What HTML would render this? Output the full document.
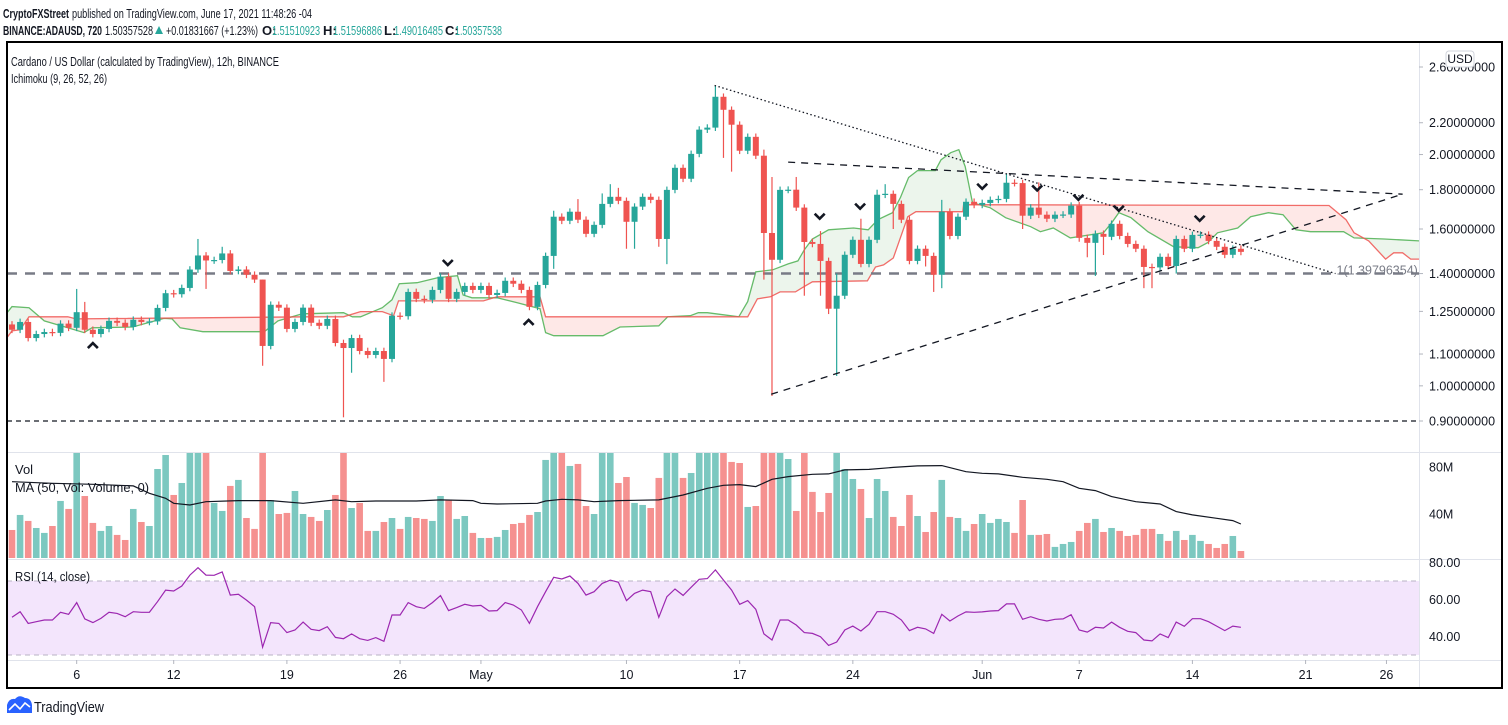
<!DOCTYPE html>
<html><head><meta charset="utf-8"><style>
html,body{margin:0;padding:0;background:#fff;}
svg{display:block;font-family:"Liberation Sans",sans-serif;}
</style></head>
<body>
<svg id="chart" width="1508" height="725" viewBox="0 0 1508 725" xmlns="http://www.w3.org/2000/svg">
<rect x="0" y="0" width="1508" height="725" fill="#fff"/>
<defs>
<clipPath id="mainClip"><rect x="7" y="43" width="1412" height="409"/></clipPath>
<clipPath id="volClip"><rect x="7" y="453" width="1412" height="105"/></clipPath>
</defs>
<g id="hdr" font-size="13" fill="#131722">
<text x="3" y="18" font-weight="bold" textLength="66" lengthAdjust="spacingAndGlyphs">CryptoFXStreet</text>
<text x="72" y="18" textLength="240" lengthAdjust="spacingAndGlyphs">published on TradingView.com, June 17, 2021 11:48:26 -04</text>
<text x="3" y="35" font-weight="bold" textLength="99" lengthAdjust="spacingAndGlyphs">BINANCE:ADAUSD, 720</text>
<text x="105" y="35" textLength="48" lengthAdjust="spacingAndGlyphs">1.50357528</text>
<path d="M155 34 L159 26 L163 34 Z" fill="#26a69a"/>
<text x="166" y="35" textLength="92" lengthAdjust="spacingAndGlyphs">+0.01831667 (+1.23%)</text>
<text x="262" y="35" font-weight="bold">O:</text>
<text x="272" y="35" fill="#26a69a" textLength="48" lengthAdjust="spacingAndGlyphs">1.51510923</text>
<text x="323" y="35" font-weight="bold">H:</text>
<text x="333" y="35" fill="#26a69a" textLength="49" lengthAdjust="spacingAndGlyphs">1.51596886</text>
<text x="384" y="35" font-weight="bold">L:</text>
<text x="394" y="35" fill="#26a69a" textLength="49" lengthAdjust="spacingAndGlyphs">1.49016485</text>
<text x="445" y="35" font-weight="bold">C:</text>
<text x="455" y="35" fill="#26a69a" textLength="47" lengthAdjust="spacingAndGlyphs">1.50357538</text>
</g>
<g id="plot"></g>
<rect x="7" y="42" width="1495" height="646" fill="none" stroke="#000" stroke-width="2"/>
<text x="11" y="66" font-size="13" fill="#131722" textLength="268" lengthAdjust="spacingAndGlyphs">Cardano / US Dollar (calculated by TradingView), 12h, BINANCE</text>
<text x="11" y="83" font-size="13" fill="#131722" textLength="96" lengthAdjust="spacingAndGlyphs">Ichimoku (9, 26, 52, 26)</text>
<text x="15" y="474" font-size="13" fill="#131722">Vol</text>
<text x="15" y="492" font-size="13" fill="#131722" textLength="134" lengthAdjust="spacingAndGlyphs">MA (50, Vol: Volume, 0)</text>
<text x="15" y="581" font-size="13" fill="#131722" textLength="75" lengthAdjust="spacingAndGlyphs">RSI (14, close)</text>
<g>
<rect x="1446" y="51" width="28" height="16" rx="3" fill="#fff" stroke="#d1d4dc"/>
<text x="1460" y="63" font-size="12" text-anchor="middle" fill="#131722">USD</text>
</g>
<g>
<path d="M7 713 L7 705 Q9 698 15 699 Q19 694 25 698 Q31 698 32 705 L32 713 Z" fill="#2962ff"/>
<path d="M9 710 L15 704 L20 709 L25 703 L30 707" fill="none" stroke="#fff" stroke-width="1.6"/>
<text x="34" y="712" font-size="15" fill="#131722" textLength="70" lengthAdjust="spacingAndGlyphs">TradingView</text>
</g>
</svg>
<script>
// ===== data =====
const firstOpen = 1.202;
const closes = [1.183,1.211,1.154,1.168,1.175,1.172,1.205,1.190,1.247,1.183,
1.168,1.186,1.215,1.208,1.193,1.219,1.211,1.213,1.263,1.320,
1.316,1.341,1.417,1.478,1.456,1.458,1.487,1.411,1.417,1.395,
1.375,1.127,1.275,1.264,1.186,1.211,1.264,1.208,1.197,1.222,
1.137,1.120,1.154,1.110,1.097,1.110,1.084,1.234,1.232,1.325,
1.298,1.294,1.333,1.387,1.298,1.325,1.349,1.333,1.349,1.313,
1.321,1.370,1.358,1.333,1.267,1.353,1.476,1.660,1.640,1.685,
1.645,1.577,1.620,1.725,1.762,1.741,1.635,1.711,1.762,1.746,
1.553,1.799,1.922,1.860,2.004,2.155,2.168,2.378,2.287,2.187,
2.023,2.109,1.993,1.581,1.459,1.799,1.800,1.706,1.539,1.530,
1.454,1.260,1.310,1.481,1.549,1.441,1.549,1.773,1.778,1.725,
1.645,1.454,1.508,1.476,1.395,1.685,1.567,1.660,1.736,1.720,
1.730,1.746,1.751,1.838,1.836,1.665,1.706,1.670,1.650,1.670,
1.671,1.716,1.558,1.535,1.577,1.563,1.625,1.567,1.530,1.508,
1.428,1.426,1.472,1.432,1.553,1.508,1.572,1.573,1.544,1.517,
1.481,1.508,1.494];
const highs = {8:1.337,9:1.286,23:1.553,26:1.517,31:1.375,67:1.69,70:1.75,73:1.78,74:1.83,75:1.81,87:2.46,93:2.03,94:1.87,97:1.87,100:1.59,102:1.40,105:1.65,107:1.80,108:1.83,115:1.746,123:1.89,127:1.84,132:1.736};
const lows = {24:1.337,31:1.062,41:0.91,42:1.04,46:1.012,67:1.42,76:1.508,77:1.508,80:1.517,81:1.44,88:1.98,89:1.90,93:1.375,94:0.97,98:1.31,100:1.31,101:1.24,102:1.03,109:1.60,113:1.43,114:1.325,115:1.34,125:1.60,132:1.54,133:1.47,134:1.39,135:1.48,140:1.34,141:1.34,144:1.40};
const volumes = [26.4,39.2,34.1,28.1,23.9,29.8,51.1,44.3,105,55.3,
32.4,25.6,29.8,22.2,17.9,44.3,33.2,29.8,78.3,90.2,
56.2,66.4,110,120,100,49.4,42.6,63.9,69,36.6,
27.3,150,51.9,40,40.9,59.6,40,37.5,34.1,43.4,
56.2,130,45.1,49.4,25.6,25.6,33.2,36.6,27.3,37.5,
36.6,35.8,34.1,55.3,51.9,35.8,38.3,23.9,19.6,19.6,
20.5,26.4,31.5,32.4,39.2,41.7,86,120,100,80.9,
82.6,46.8,40,110,100,66.4,71.5,49.4,47.7,45.1,
70.7,140,110,70.7,74.9,110,100,130,100,84.3,
83.4,46,46.8,160,140,110,86.8,42.6,100,58.8,
41.7,57.9,120,78.3,69.8,61.3,36.6,69.8,59.6,37.5,
29.8,56.2,38.3,24.7,41.7,69,37.5,36.6,25.6,31.5,
40,32.4,35.8,33.2,23.9,51.9,22.2,22.2,23,12,
14.5,16.2,25.6,32.4,35.8,24.7,28.1,25.6,21.3,22.2,
27.3,27.3,23,17.1,25.6,17.9,22.2,17.1,14.5,11.1,
14.5,21.3,8.5];
const volMA = [[0,67.5],[5,66.1],[10,65.3],[15,63.9],[17,57.6],[19,53.4],[20,49.1],[22,47.7],[24,50.5],[28,51.4],[32,51.4],[36,49.1],[40,52],[42,50.5],[45,51.1],[50,51.1],[53,52],[57,51.4],[58,49.1],[60,48.5],[65,49.1],[66,51.1],[68,52.5],[70,52],[72,50.5],[75,51.4],[80,52],[83,56.2],[86,61.9],[88,64.4],[90,65],[92,63.3],[94,69.5],[96,71.8],[99,73.8],[101,74.1],[103,77.5],[106,78],[109,79.7],[112,80.9],[115,81.2],[118,76],[120,74.6],[122,74.1],[125,71.2],[128,69.5],[130,67.5],[132,61.9],[134,59.9],[136,54.8],[139,50.5],[142,48.5],[144,42],[146,39.2],[149,36.3],[151,34.4],[152,31.5]];
const rsiValues = [50.4,53.4,47.1,48.0,48.9,48.9,53.1,52.0,58.3,49.5,
47.5,49.8,53.1,52.5,50.7,53.4,53.1,53.1,58.8,65.1,
64.6,67.3,73.2,77.2,73.2,73.1,74.9,62.4,62.8,59.7,
56.1,34.2,47.5,47.1,42.1,43.5,47.8,43.9,43.2,45.3,
39.5,38.8,41.4,38.8,37.9,39.4,37.4,51.6,51.6,58.3,
56.1,55.2,58.3,62.1,54.0,55.6,57.4,56.5,56.8,53.8,
54.0,58.3,57.0,54.3,47.1,56.1,64.2,72.0,71.1,72.7,
68.7,62.4,64.2,68.7,70.5,69.3,
59.4,63.3,65.1,64.2,50.4,61.5,65.7,62.2,66.6,70.9,
71.3,76.0,70.5,65.1,57.4,59.4,54.7,41.4,38.1,48.9,
48.9,46.2,42.1,41.7,39.9,35.2,37.0,43.5,45.6,43.0,
46.6,53.4,53.4,52.0,48.9,43.2,45.0,44.1,41.7,52.0,
48.4,51.1,53.3,53.1,53.3,53.8,54.0,57.6,57.6,49.3,
50.7,49.3,48.4,49.3,49.5,51.8,43.5,42.4,45.0,44.6,
47.8,45.0,42.8,42.1,38.1,37.6,41.4,39.4,47.8,45.5,
49.6,49.6,48.0,45.6,43.2,45.6,45.0];
const spanA = [[-0.6,1.245],[0,1.268],[2.1,1.264],[4,1.215],[6.9,1.19],[8.9,1.173],[9.9,1.19],[14.9,1.193],[18.8,1.224],[19.8,1.222],[20.8,1.19],[23.6,1.176],[31.2,1.176],[32.9,1.215],[35.9,1.241],[41,1.245],[42.1,1.23],[43.1,1.23],[45.8,1.264],[47,1.294],[47.9,1.358],[50.1,1.362],[52.7,1.383],[55.1,1.391],[55.8,1.313],[56.9,1.302],[60,1.302],[62.5,1.283],[65.3,1.26],[66,1.173],[67,1.162],[73.1,1.162],[75.2,1.193],[80,1.197],[81.1,1.23],[83.9,1.234],[84.9,1.245],[86,1.245],[89.9,1.23],[91,1.287],[92,1.407],[94.1,1.416],[96,1.441],[97.2,1.454],[98,1.503],[99,1.553],[101,1.596],[104.1,1.605],[105.9,1.596],[107.1,1.645],[108.9,1.68],[109.9,1.759],[110.9,1.867],[112,1.906],[114.2,1.906],[114.9,1.969],[116.1,2.011],[117.1,2.029],[117.9,1.929],[118.8,1.731],[121,1.705],[122.9,1.655],[126,1.611],[127.2,1.587],[128.8,1.605],[130.9,1.558],[135,1.582],[136.1,1.635],[136.9,1.68],[138.4,1.655],[140.5,1.587],[143.7,1.517],[146.7,1.513],[147.9,1.536],[149.1,1.582],[151.6,1.605],[153.2,1.66],[155.4,1.68],[157.2,1.67],[158.8,1.596],[160.6,1.587],[164.7,1.587],[166,1.558],[169.7,1.553],[174.1,1.544]];
const spanB = [[-0.6,1.156],[0,1.179],[1,1.183],[2.1,1.23],[6.9,1.23],[7.9,1.222],[36.9,1.23],[41,1.23],[43.1,1.249],[45.8,1.249],[47.2,1.234],[47.8,1.29],[58.3,1.29],[60,1.306],[65.3,1.306],[66,1.23],[91,1.23],[92.2,1.298],[93.8,1.306],[95,1.325],[96.9,1.325],[97.9,1.345],[99,1.366],[105.8,1.37],[106.8,1.428],[107.8,1.437],[109,1.467],[110.8,1.66],[111.8,1.685],[117.6,1.685],[117.7,1.721],[162.9,1.717],[165,1.645],[166,1.582],[167.8,1.544],[169.9,1.462],[170.9,1.49],[172,1.49],[173,1.462],[174.1,1.462]];
const priceTicks = [2.6,2.2,2.0,1.8,1.6,1.4,1.25,1.1,1.0,0.9];
const volTicks = [80,40];
const rsiTicks = [80,60,40];
const timeLabels = ["6","12","19","26","May","10","17","24","Jun","7","14","21","26"];
const timeDays = [4,10,17,24,29,38,45,52,60,66,73,80,85];
const markerDown = [[53.9,1.445],[99.9,1.66],[104.9,1.711],[120,1.816],[126.8,1.807],[131.9,1.757],[136.9,1.70],[146.9,1.65]];
const markerUp = [[10,1.13],[63.9,1.211]];
const dottedTrend = [[86.9,2.46],[163.7,1.40]];
const upperTrend = [[96,1.955],[172,1.776]];
const lowerTrend = [[93.9,0.975],[172,1.776]];
const hLevels = [1.4,0.9];
const fibLabel = "1(1.39796354)";

// ===== scales =====
const NS = "http://www.w3.org/2000/svg";
function xi(i){return 12 + 8.085*i;}
function xd(d){return 12 + 16.17*d;}
function yp(p){return 421 - 333.7*Math.log(p/0.9);}
function yv(v){return 561 - 1.175*v;}
function yr(r){return 581 + (70 - r)*1.85;}
function mk(tag, parent){const e=document.createElementNS(NS,tag);parent.appendChild(e);return e;}
function pts(arr,fy){return arr.map(a=>xi(a[0]).toFixed(1)+','+fy(a[1]).toFixed(1)).join(' ');}

const plot = document.getElementById('plot');

// grid separators & axis lines
let sep = mk('line', plot);
sep.setAttribute('x1',7);sep.setAttribute('x2',1502);sep.setAttribute('y1',452.5);sep.setAttribute('y2',452.5);sep.setAttribute('stroke','#e0e3eb');


let sep2 = mk('line', plot);
sep2.setAttribute('x1',7);sep2.setAttribute('x2',1502);sep2.setAttribute('y1',559.5);sep2.setAttribute('y2',559.5);sep2.setAttribute('stroke','#e0e3eb');


let tax = mk('line', plot);
tax.setAttribute('x1',7);tax.setAttribute('x2',1502);tax.setAttribute('y1',660.5);tax.setAttribute('y2',660.5);tax.setAttribute('stroke','#e0e3eb');


let pax = mk('line', plot);
pax.setAttribute('x1',1419.5);pax.setAttribute('x2',1419.5);pax.setAttribute('y1',42);pax.setAttribute('y2',688);pax.setAttribute('stroke','#e0e3eb');



// ===== main pane =====
const main = mk('g', plot);
main.setAttribute('clip-path','url(#mainClip)');



// cloud clip paths
const defs = document.querySelector('defs');
const x0 = xi(spanB[0][0]), x1 = xi(spanB[spanB.length-1][0]);
let cpB = mk('clipPath', defs); cpB.setAttribute('id','aboveB');
let cpBp = mk('polygon', cpB); cpBp.setAttribute('points', pts(spanB,yp)+' '+x1+',0 '+x0+',0');
let cpA = mk('clipPath', defs); cpA.setAttribute('id','aboveA');
let cpAp = mk('polygon', cpA); cpAp.setAttribute('points', pts(spanA,yp)+' '+xi(spanA[spanA.length-1][0])+',0 '+xi(spanA[0][0])+',0');
const between = pts(spanA,yp)+' '+pts(spanB.slice().reverse(),yp);
let gFill = mk('polygon', main);
gFill.setAttribute('points', between);gFill.setAttribute('fill','rgba(67,160,71,0.10)');gFill.setAttribute('clip-path','url(#aboveB)');


let rFill = mk('polygon', main);
rFill.setAttribute('points', between);rFill.setAttribute('fill','rgba(244,67,54,0.12)');rFill.setAttribute('clip-path','url(#aboveA)');


let aLine = mk('polyline', main);
aLine.setAttribute('points', pts(spanA,yp));aLine.setAttribute('fill','none');aLine.setAttribute('stroke','#66bb6a');aLine.setAttribute('stroke-width','1.3');


let bLine = mk('polyline', main);
bLine.setAttribute('points', pts(spanB,yp));bLine.setAttribute('fill','none');bLine.setAttribute('stroke','#ef5350');bLine.setAttribute('stroke-width','1.3');bLine.setAttribute('stroke-opacity','0.85');



// horizontal levels
hLevels.forEach((lv,k)=>{
  const l = mk('line', main);
  l.setAttribute('x1',7);l.setAttribute('x2',1419);l.setAttribute('y1',yp(lv));l.setAttribute('y2',yp(lv));
  if(k===0){l.setAttribute('stroke','#787b86');l.setAttribute('stroke-width','2.5');l.setAttribute('stroke-dasharray','10 8');}
  else{l.setAttribute('stroke','#131722');l.setAttribute('stroke-width','1.3');l.setAttribute('stroke-dasharray','5 4');}
  
  
});

// candles
const opens = closes.map((c,i)=> i===0 ? firstOpen : closes[i-1]);
const isUp = closes.map((c,i)=> c >= opens[i]);
closes.forEach((c,i)=>{
  const o = opens[i];
  const hi = highs[i] !== undefined ? highs[i] : Math.max(o,c)*1.01;
  const lo = lows[i] !== undefined ? lows[i] : Math.min(o,c)*0.99;
  const col = isUp[i] ? '#26a69a' : '#ef5350';
  const g = mk('g', main);
  
  
  const w = mk('line', g);
  w.setAttribute('x1',xi(i));w.setAttribute('x2',xi(i));w.setAttribute('y1',yp(hi));w.setAttribute('y2',yp(lo));w.setAttribute('stroke',col);w.setAttribute('stroke-width','1.2');
  
  
  const b = mk('rect', g);
  const yt = Math.min(yp(o),yp(c)), h = Math.max(1.2, Math.abs(yp(o)-yp(c)));
  b.setAttribute('x',xi(i)-3);b.setAttribute('y',yt);b.setAttribute('width',6);b.setAttribute('height',h);b.setAttribute('fill',col);
  
  
});

// trendlines
function trend(arr, dash, name){
  const l = mk('line', main);
  l.setAttribute('x1',xi(arr[0][0]));l.setAttribute('y1',yp(arr[0][1]));l.setAttribute('x2',xi(arr[1][0]));l.setAttribute('y2',yp(arr[1][1]));
  l.setAttribute('stroke','#131722');l.setAttribute('stroke-width','1.3');l.setAttribute('stroke-dasharray',dash);
  
  
}
trend(dottedTrend,'1.5 2.5','descending-dotted-trendline');
trend(upperTrend,'7 6','upper-triangle-trendline');
trend(lowerTrend,'7 6','lower-triangle-trendline');
const fl = mk('text', main);
fl.setAttribute('x',xi(dottedTrend[1][0])+1);fl.setAttribute('y',yp(dottedTrend[1][1])+1);fl.setAttribute('font-size','12.5');fl.setAttribute('fill','#787b86');
fl.textContent = fibLabel;



// chevron markers
markerDown.forEach(m=>{
  const p = mk('path', main);
  const x=xi(m[0]), y=yp(m[1]);
  p.setAttribute('d',`M${x-5} ${y-3} L${x} ${y+2} L${x+5} ${y-3}`);p.setAttribute('fill','none');p.setAttribute('stroke','#131722');p.setAttribute('stroke-width','2.6');
  
  
});
markerUp.forEach(m=>{
  const p = mk('path', main);
  const x=xi(m[0]), y=yp(m[1]);
  p.setAttribute('d',`M${x-5} ${y+3} L${x} ${y-2} L${x+5} ${y+3}`);p.setAttribute('fill','none');p.setAttribute('stroke','#131722');p.setAttribute('stroke-width','2.6');
  
  
});

// price axis labels
priceTicks.forEach(p=>{
  const y = yp(p);
  const tk = mk('line', plot);
  tk.setAttribute('x1',1419);tk.setAttribute('x2',1423);tk.setAttribute('y1',y);tk.setAttribute('y2',y);tk.setAttribute('stroke','#b2b5be');
  
  
  const t = mk('text', plot);
  t.setAttribute('x',1429);t.setAttribute('y',y+4.5);t.setAttribute('font-size','12.5');t.setAttribute('fill','#131722');
  t.textContent = p.toFixed(8);
  
  
});

// ===== volume pane =====
const vol = mk('g', plot);
vol.setAttribute('clip-path','url(#volClip)');


volumes.forEach((v,i)=>{
  const r = mk('rect', vol);
  r.setAttribute('x',xi(i)-3.3);r.setAttribute('y',yv(v));r.setAttribute('width',6.6);r.setAttribute('height',Math.max(0,561-yv(v)));
  r.setAttribute('fill', isUp[i] ? '#7cc8c0' : '#f59190');
  
  
});
const ma = mk('polyline', vol);
ma.setAttribute('points', pts(volMA,yv));ma.setAttribute('fill','none');ma.setAttribute('stroke','#131722');ma.setAttribute('stroke-width','1.2');


volTicks.forEach(v=>{
  const t = mk('text', plot);
  t.setAttribute('x',1429);t.setAttribute('y',yv(v)+4.5);t.setAttribute('font-size','12.5');t.setAttribute('fill','#131722');
  t.textContent = v + 'M';
  
  
});

// ===== RSI pane =====
const rsiG = mk('g', plot);


const band = mk('rect', rsiG);
band.setAttribute('x',7);band.setAttribute('y',yr(70));band.setAttribute('width',1412);band.setAttribute('height',yr(30)-yr(70));band.setAttribute('fill','#f3e5fc');


[70,30].forEach(lv=>{
  const l = mk('line', rsiG);
  l.setAttribute('x1',7);l.setAttribute('x2',1419);l.setAttribute('y1',yr(lv));l.setAttribute('y2',yr(lv));l.setAttribute('stroke','#b9b3c4');l.setAttribute('stroke-dasharray','5 4');
  
  
});
const rl = mk('polyline', rsiG);
rl.setAttribute('points', rsiValues.map((r,i)=>xi(i).toFixed(1)+','+yr(r).toFixed(1)).join(' '));
rl.setAttribute('fill','none');rl.setAttribute('stroke','#9c27b0');rl.setAttribute('stroke-width','1.2');


rsiTicks.forEach(r=>{
  const t = mk('text', plot);
  t.setAttribute('x',1429);t.setAttribute('y',yr(r)+4.5);t.setAttribute('font-size','12.5');t.setAttribute('fill','#131722');
  t.textContent = r.toFixed(2);
  
  
});

// ===== time axis =====
timeLabels.forEach((lab,k)=>{
  const x = xd(timeDays[k]);
  const tk = mk('line', plot);
  tk.setAttribute('x1',x);tk.setAttribute('x2',x);tk.setAttribute('y1',660);tk.setAttribute('y2',664);tk.setAttribute('stroke','#b2b5be');
  
  
  const t = mk('text', plot);
  t.setAttribute('x',x);t.setAttribute('y',679);t.setAttribute('font-size','12.5');t.setAttribute('text-anchor','middle');t.setAttribute('fill','#131722');
  t.textContent = lab;
  
  
});
</script>
</body></html>
